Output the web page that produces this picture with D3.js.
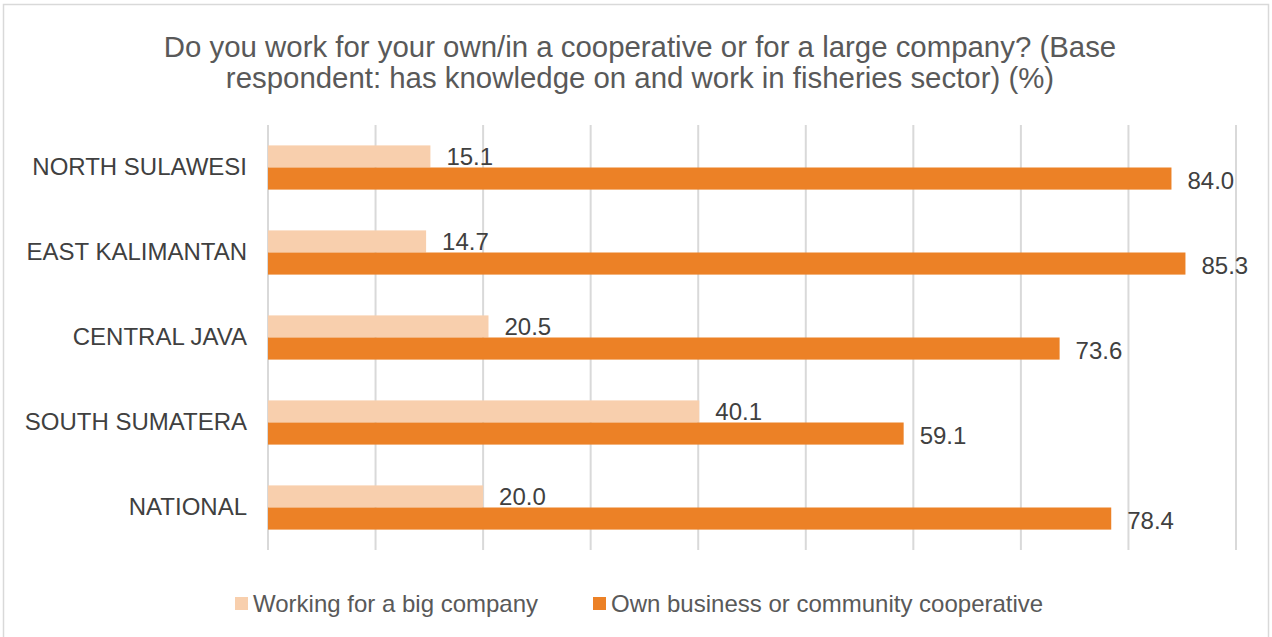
<!DOCTYPE html>
<html>
<head>
<meta charset="utf-8">
<script src="https://cdn.jsdelivr.net/npm/d3@7"></script>
<style>
  body { margin: 0; background: #fff; }
  text { font-family: 'Liberation Sans', Arial, sans-serif; }
</style>
</head>
<body>
<svg width="1272" height="637"></svg>
<script>
const categories = ['NORTH SULAWESI', 'EAST KALIMANTAN', 'CENTRAL JAVA', 'SOUTH SUMATERA', 'NATIONAL']
const seriesNames = ['Working for a big company', 'Own business or community cooperative']
const bigCompany = [15.1, 14.7, 20.5, 40.1, 20.0]
const ownBusiness = [84.0, 85.3, 73.6, 59.1, 78.4]
const xTicks = [0, 10, 20, 30, 40, 50, 60, 70, 80, 90]
const colors = ['#F8CFAD', '#EC8126']

const svg = d3.select('svg')
const margin = { top: 125, left: 268, right: 36, bottom: 87 }
const width = 1272 - margin.left - margin.right
const height = 637 - margin.top - margin.bottom

// chart border
svg.append('rect')
  .attr('x', 3.5).attr('y', 4.5)
  .attr('width', 1265).attr('height', 640)
  .attr('fill', 'none').attr('stroke', '#D9D9D9').attr('stroke-width', 1.5)

svg.append('text')
  .attr('x', 640).attr('y', 57)
  .attr('text-anchor', 'middle')
  .attr('font-size', 29.4).attr('fill', '#595959')
  .text('Do you work for your own/in a cooperative or for a large company? (Base')
svg.append('text')
  .attr('x', 640).attr('y', 88)
  .attr('text-anchor', 'middle')
  .attr('font-size', 29.4).attr('fill', '#595959')
  .text('respondent: has knowledge on and work in fisheries sector) (%)')

const g = svg.append('g').attr('transform', 'translate(' + margin.left + ',' + margin.top + ')')

const x = d3.scaleLinear().domain([0, 90]).range([0, width])
const y = d3.scaleBand().domain(categories).range([0, height]).paddingInner(0.48).paddingOuter(0.24)
const sub = d3.scaleBand().domain([0, 1]).range([0, y.bandwidth()])

// gridlines
g.selectAll('.grid')
  .data(xTicks)
  .enter().append('line')
  .attr('x1', d => x(d)).attr('x2', d => x(d))
  .attr('y1', 0).attr('y2', height)
  .attr('stroke', '#D9D9D9').attr('stroke-width', 2)

const yAxis = d3.axisLeft(y).tickSize(0).tickPadding(21)
g.append('g')
  .call(yAxis)
  .call(a => a.select('.domain').remove())
  .selectAll('text')
  .attr('font-size', 24).attr('fill', '#404040')

const series = [bigCompany, ownBusiness]

series.forEach(function (vals, s) {
  const grp = g.append('g')
  grp.selectAll('rect')
    .data(vals)
    .enter().append('rect')
    .attr('x', 0)
    .attr('y', (d, i) => y(categories[i]) + sub(s))
    .attr('width', d => x(d))
    .attr('height', sub.bandwidth())
    .attr('fill', colors[s])
  grp.selectAll('text')
    .data(vals)
    .enter().append('text')
    .attr('x', d => x(d) + 16)
    .attr('y', (d, i) => y(categories[i]) + sub(s) + sub.bandwidth() / 2 + (s === 0 ? 0 : 2))
    .attr('dy', '0.35em')
    .attr('font-size', 24).attr('fill', '#404040')
    .text(d => d.toFixed(1))
})

// legend
const legendX = [235, 593]
seriesNames.forEach(function (name, i) {
  svg.append('rect')
    .attr('x', legendX[i]).attr('y', 597)
    .attr('width', 13).attr('height', 13)
    .attr('fill', colors[i])
  svg.append('text')
    .attr('x', legendX[i] + 18).attr('y', 604)
    .attr('dy', '0.35em')
    .attr('font-size', 24).attr('fill', '#595959')
    .text(name)
})
</script>
</body>
</html>
